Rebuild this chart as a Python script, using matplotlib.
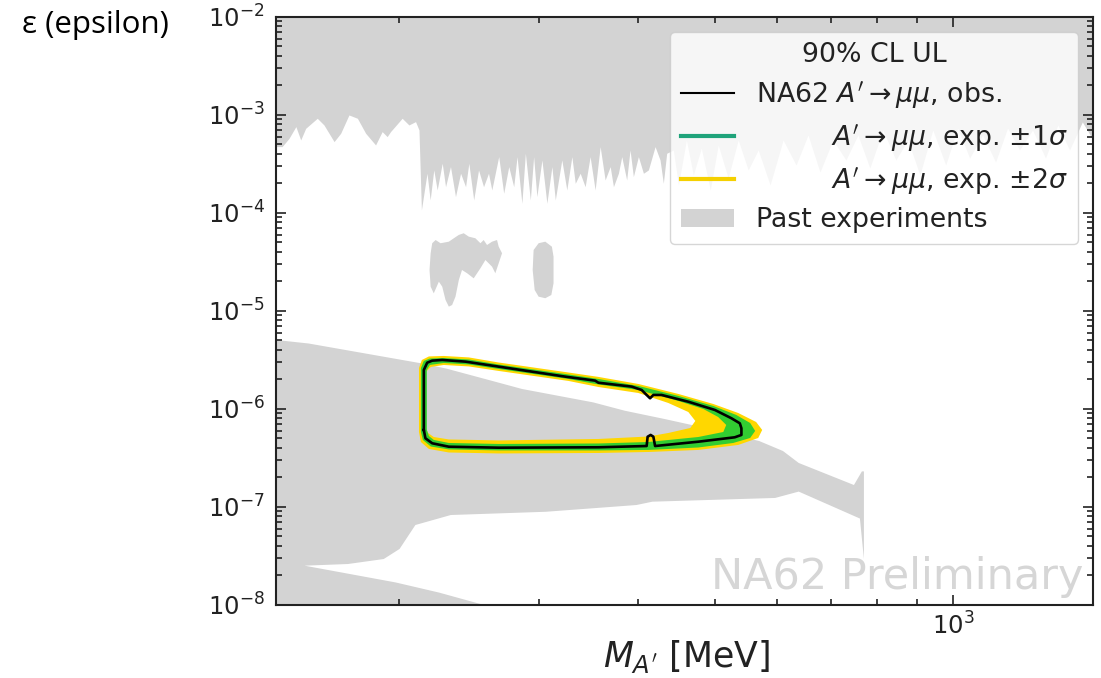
import numpy as np
import matplotlib
matplotlib.use('Agg')
import matplotlib.pyplot as plt
from matplotlib.path import Path
from matplotlib.patches import PathPatch, Patch
from matplotlib.lines import Line2D
from matplotlib.ticker import NullFormatter

# masses in MeV, couplings given as log10(epsilon)

# past experiments, upper excluded region (lower edge)
top_left_m = [140.0, 142.5, 145.4, 148.3, 150.4, 152.6, 157.8, 160.9, 165.7, 168.9, 173.0,
              177.3, 181.6, 186.9, 190.5, 193.3, 195.2, 201.9, 205.9, 209.9, 212.0]
top_left_le = [-3.323, -3.323, -3.238, -3.119, -3.255, -3.136, -3.034, -3.102, -3.272, -3.187, -3.000,
               -3.034, -3.187, -3.306, -3.170, -3.221, -3.170, -3.034, -3.102, -3.068, -3.153]
top_mid_m = [213.5, 217, 219, 221.3, 223.5, 226.8, 229, 232.3, 235.7, 239.2, 242.7, 245, 248.5, 252,
             255.7, 259.4, 261.9, 267.2, 271.1, 275.1, 279.1, 281.8, 285.8, 288.7, 292.9, 295.7,
             298.5, 302.9, 307.3, 311.8, 314.9, 320.9, 325.6, 330.4, 333.7, 338.5, 343.4, 348.4,
             353.5, 358.7, 363.9, 369.3, 372.8, 378.2, 381.9, 387.4, 391.2, 395.0, 400.8, 406.7,
             412.6, 420.7, 426.8, 430.9, 435.1]
top_mid_le = [-3.969, -3.595, -3.867, -3.561, -3.765, -3.493, -3.732, -3.527, -3.833, -3.595,
              -3.732, -3.493, -3.867, -3.561, -3.732, -3.595, -3.765, -3.425, -3.799, -3.527,
              -3.732, -3.425, -3.901, -3.391, -3.867, -3.425, -3.833, -3.459, -3.901, -3.527,
              -3.867, -3.459, -3.765, -3.425, -3.697, -3.595, -3.732, -3.425, -3.765, -3.323,
              -3.663, -3.527, -3.732, -3.595, -3.425, -3.663, -3.357, -3.629, -3.425, -3.595,
              -3.561, -3.323, -3.459, -3.697, -3.391]
top_right_m = [443.6, 450.2, 460.7, 470.1, 481.1, 493.8, 505.3, 520.1, 535.5, 551.3, 567.5, 587.4,
               610.0, 633.4, 655.8, 678.9, 705.0, 732.0, 758.0, 784.7, 815.0, 846.2, 876.2, 907.3,
               941.9, 978.0, 1012.5, 1048.3, 1088.6, 1130.3, 1170.3, 1211.7, 1258.3, 1306.5,
               1354.0, 1401.0, 1454.0, 1500.0]
top_right_le = [-3.357, -3.714, -3.255, -3.612, -3.337, -3.765, -3.306, -3.643, -3.255, -3.561,
                -3.357, -3.714, -3.255, -3.510, -3.204, -3.582, -3.255, -3.459, -3.204, -3.541,
                -3.153, -3.459, -3.255, -3.612, -3.153, -3.510, -3.133, -3.439, -3.204, -3.480,
                -3.133, -3.357, -3.153, -3.439, -3.102, -3.357, -3.071, -3.255]

# past experiments, lower excluded region (outline)
low_m = [140.0, 140.0, 153.9, 214.7, 229.8, 260.9, 285.9, 351.6, 385.3, 432.2, 473.7, 569.1,
         609.8, 638.3, 749.3, 766.8, 771.3, 771.3, 762.4, 638.3, 596.0, 417.4, 398.5, 306.2,
         232.5, 209.8, 200.4, 191.4, 172.5, 152.1, 198.1, 224.6, 256.0]
low_le = [-8.0, -5.296, -5.332, -5.538, -5.589, -5.709, -5.796, -5.933, -6.018, -6.102, -6.173,
          -6.327, -6.429, -6.551, -6.776, -6.637, -6.637, -7.531, -7.118, -6.843, -6.908, -6.946,
          -6.980, -7.049, -7.082, -7.184, -7.428, -7.531, -7.582, -7.599, -7.770, -7.873, -8.0]

# isolated excluded islands
isl1_m = [220.3, 222.5, 225.7, 231.2, 234.6, 238.0, 241.4, 245.0, 249.7, 253.4, 255.8, 258.3,
          262.1, 265.9, 267.2, 269.8, 267.2, 264.6, 262.1, 257.1, 253.4, 248.5, 243.8, 240.2,
          238.0, 235.7, 233.4, 231.2, 229.0, 226.8, 224.6, 221.3, 219.3, 218.6, 219.3]
isl1_le = [-4.309, -4.276, -4.309, -4.293, -4.258, -4.224, -4.207, -4.242, -4.258, -4.309,
           -4.276, -4.327, -4.293, -4.276, -4.344, -4.411, -4.513, -4.615, -4.548, -4.480,
           -4.564, -4.667, -4.615, -4.582, -4.684, -4.854, -4.939, -4.956, -4.888, -4.752,
           -4.701, -4.820, -4.752, -4.582, -4.411]
isl2_m = [295.7, 300.0, 305.9, 311.8, 313.3, 313.3, 311.3, 305.9, 300.0, 296.6, 294.9]
isl2_le = [-4.378, -4.309, -4.293, -4.344, -4.446, -4.717, -4.837, -4.870, -4.854, -4.786, -4.582]

# NA62 observed 90% CL contour
obs_m = [215.0, 215.0, 217.1, 220.3, 226.8, 242.7, 267.2, 294.2, 324.1, 353.5, 356.9, 393.1,
         404.6, 410.5, 414.6, 418.6, 428.7, 463.3, 500.4, 525.1, 538.0, 540.5, 540.5, 530.2,
         476.9, 420.7, 418.6, 415.3, 411.7, 410.5, 356.9, 267.2, 231.2, 220.3, 216.0, 215.0]
obs_le = [-6.214, -5.602, -5.528, -5.507, -5.500, -5.517, -5.568, -5.619, -5.670, -5.711,
          -5.732, -5.772, -5.806, -5.857, -5.891, -5.857, -5.857, -5.926, -6.010, -6.095,
          -6.146, -6.197, -6.265, -6.289, -6.334, -6.378, -6.283, -6.265, -6.283, -6.378,
          -6.391, -6.395, -6.385, -6.350, -6.299, -6.214]

# expected +-2 sigma band (outer / inner edge)
y2_out_m = [212.0, 212.0, 213.8, 218.2, 227.8, 245.0, 267.2, 295.7, 327.2, 357.0, 400.8, 450.2,
            498.1, 535.5, 564.1, 574.1, 567.5, 535.5, 476.9, 412.6, 357.0, 267.2, 231.2, 218.2, 213.2]
y2_out_le = [-6.235, -5.582, -5.500, -5.464, -5.459, -5.474, -5.526, -5.577, -5.628, -5.673,
             -5.745, -5.847, -5.949, -6.041, -6.133, -6.214, -6.296, -6.367, -6.418, -6.439,
             -6.449, -6.454, -6.444, -6.408, -6.337]
y2_in_m = [216.3, 216.3, 219.4, 227.8, 245.0, 267.2, 295.7, 327.2, 357.0, 400.8, 437.2, 463.3,
           472.8, 466.0, 437.2, 412.6, 357.0, 267.2, 231.2, 221.3, 217.6]
y2_in_le = [-6.194, -5.622, -5.571, -5.551, -5.566, -5.612, -5.663, -5.714, -5.776, -5.837,
            -5.939, -6.031, -6.122, -6.194, -6.245, -6.281, -6.306, -6.321, -6.311, -6.286, -6.245]

# expected +-1 sigma band (outer / inner edge)
g1_out_m = [213.2, 213.2, 215.0, 218.8, 227.8, 245.0, 267.2, 295.7, 327.2, 357.0, 400.8, 450.2,
            498.1, 532.4, 554.4, 562.5, 554.4, 527.8, 476.9, 412.6, 357.0, 267.2, 231.2, 219.4, 214.4]
g1_out_le = [-6.235, -5.582, -5.510, -5.485, -5.480, -5.495, -5.546, -5.597, -5.648, -5.694,
             -5.765, -5.867, -5.969, -6.061, -6.143, -6.224, -6.296, -6.347, -6.393, -6.418,
             -6.423, -6.423, -6.413, -6.383, -6.316]
g1_in_m = [216.9, 216.9, 218.8, 227.8, 245.0, 267.2, 295.7, 327.2, 357.0, 400.8, 450.2, 483.9,
           505.3, 517.2, 512.8, 476.9, 412.6, 357.0, 267.2, 231.2, 221.3, 218.2]
g1_in_le = [-6.214, -5.602, -5.551, -5.531, -5.546, -5.592, -5.643, -5.694, -5.750, -5.806,
            -5.918, -6.000, -6.082, -6.163, -6.235, -6.286, -6.337, -6.352, -6.357, -6.347,
            -6.316, -6.276]

GRAY = '#d3d3d3'
YELLOW = '#ffd700'
GREEN = '#32cd32'
INK = '#222222'


def eps(le):
    return 10.0 ** np.asarray(le)


def band_path(out_m, out_le, in_m, in_le):
    # outer loop plus reversed inner loop -> filled ring
    outer = np.column_stack([out_m, eps(out_le)])
    inner = np.column_stack([in_m, eps(in_le)])[::-1]
    verts = np.concatenate([outer, outer[:1], inner, inner[:1]])
    codes = ([Path.MOVETO] + [Path.LINETO] * (len(outer) - 1) + [Path.CLOSEPOLY]
             + [Path.MOVETO] + [Path.LINETO] * (len(inner) - 1) + [Path.CLOSEPOLY])
    return Path(verts, codes)


fig = plt.figure(figsize=(11.01, 6.78), dpi=100)
ax = fig.add_axes([0.2507, 0.1077, 0.7421, 0.8673])
ax.set_xscale('log')
ax.set_yscale('log')

top_m = top_left_m + top_mid_m + top_right_m
top_le = top_left_le + top_mid_le + top_right_le
ax.fill_between(top_m, eps(top_le), 1e-2, color=GRAY, lw=0, zorder=1)
ax.fill(low_m, eps(low_le), color=GRAY, lw=0, zorder=1)
ax.fill(isl1_m, eps(isl1_le), color=GRAY, lw=0, zorder=1)
ax.fill(isl2_m, eps(isl2_le), color=GRAY, lw=0, zorder=1)

ax.add_patch(PathPatch(band_path(y2_out_m, y2_out_le, y2_in_m, y2_in_le),
                       facecolor=YELLOW, edgecolor='none', zorder=2))
ax.add_patch(PathPatch(band_path(g1_out_m, g1_out_le, g1_in_m, g1_in_le),
                       facecolor=GREEN, edgecolor='none', zorder=3))
ax.plot(obs_m, eps(obs_le), color='black', lw=1.9, zorder=4)

ax.set_xlim(140, 1500)
ax.set_ylim(1e-8, 1e-2)
ax.xaxis.set_minor_formatter(NullFormatter())
ax.tick_params(which='both', direction='in', top=True, right=True, labelsize=17.5,
               width=1.2, colors=INK)
ax.tick_params(which='major', length=7)
ax.tick_params(which='minor', length=4)
ax.tick_params(axis='x', which='major', pad=5)
ax.tick_params(axis='y', which='major', pad=8)
for s in ax.spines.values():
    s.set_linewidth(1.5)
    s.set_color(INK)

ax.set_xlabel(r"$M_{A'}$ [MeV]", fontsize=25, va='baseline', color=INK)
ax.xaxis.set_label_coords(0.5024, -0.1054)

ax.text(0.988, 0.028, 'NA62 Preliminary', transform=ax.transAxes, ha='right', va='baseline',
        fontsize=31, color='#d6d6d6', zorder=5)

handles = [
    Line2D([], [], color='black', lw=1.5),
    Line2D([], [], color='#1fa37a', lw=3),
    Line2D([], [], color='#f5d000', lw=3),
    Patch(facecolor=GRAY, edgecolor='none'),
]
labels = [
    r"NA62 $A'\rightarrow\mu\mu$, obs.",
    r"         $A'\rightarrow\mu\mu$, exp. $\pm1\sigma$",
    r"         $A'\rightarrow\mu\mu$, exp. $\pm2\sigma$",
    'Past experiments',
]
leg = ax.legend(handles, labels, loc='upper right', title='90% CL UL', fontsize=19.3,
                title_fontsize=19.3, labelspacing=0.4, borderaxespad=0.55)
leg.set_zorder(10)
for t in leg.get_texts():
    t.set_color(INK)
leg.get_title().set_color(INK)

fig.text(0.02, 0.963, 'ε (epsilon)', fontsize=22.5, family=['Open Sans', 'DejaVu Sans'],
         ha='left', va='center')

fig.savefig('out.png', dpi=100)
